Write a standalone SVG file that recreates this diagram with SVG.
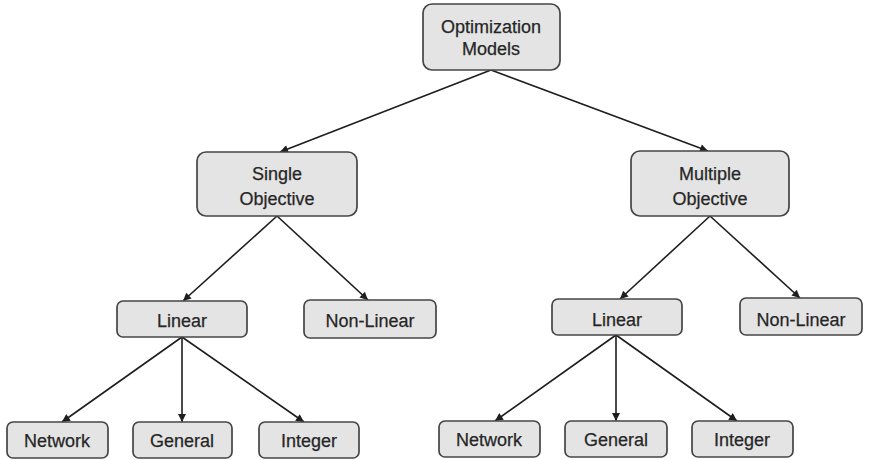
<svg xmlns="http://www.w3.org/2000/svg" width="871" height="460" viewBox="0 0 871 460">
  <style>
    .box { fill: #e4e4e4; stroke: #454545; stroke-width: 1.7; }
    .lbl { font-family: "Liberation Sans", Arial, sans-serif; font-size: 18px; fill: #262626; stroke: #262626; stroke-width: 0.25; text-anchor: middle; }
    .edge { stroke: #1e1e1e; stroke-width: 1.6; fill: none; marker-end: url(#arrow); }
  </style>
  <defs>
    <marker id="arrow" viewBox="0 0 10 10" refX="10" refY="5" markerWidth="9" markerHeight="8" markerUnits="userSpaceOnUse" orient="auto">
      <path d="M0,0 L10,5 L0,10 Z" fill="#1e1e1e"/>
    </marker>
  </defs>
  <rect width="871" height="460" fill="#ffffff"/>

  <g id="connectors">
    <line class="edge" x1="491" y1="70" x2="280" y2="152"/>
    <line class="edge" x1="491" y1="70" x2="708" y2="151"/>
    <line class="edge" x1="277" y1="216" x2="183" y2="301"/>
    <line class="edge" x1="277" y1="216" x2="368" y2="300"/>
    <line class="edge" x1="710" y1="216" x2="620" y2="299"/>
    <line class="edge" x1="710" y1="216" x2="800" y2="298"/>
    <line class="edge" x1="182" y1="337" x2="62" y2="422"/>
    <line class="edge" x1="182" y1="337" x2="182" y2="422"/>
    <line class="edge" x1="182" y1="337" x2="304" y2="422"/>
    <line class="edge" x1="616" y1="335" x2="495" y2="421"/>
    <line class="edge" x1="616" y1="335" x2="616" y2="421"/>
    <line class="edge" x1="616" y1="335" x2="737" y2="421"/>
  </g>

  <g id="optimization-models">
    <rect class="box" x="423" y="4" width="137" height="66" rx="9"/>
    <text class="lbl" x="491" y="33">Optimization</text>
    <text class="lbl" x="491" y="55">Models</text>
  </g>

  <g id="single-objective">
    <rect class="box" x="197" y="152" width="160" height="64" rx="9"/>
    <text class="lbl" x="277" y="180">Single</text>
    <text class="lbl" x="277" y="205">Objective</text>
  </g>

  <g id="multiple-objective">
    <rect class="box" x="631" y="151" width="158" height="65" rx="9"/>
    <text class="lbl" x="710" y="180">Multiple</text>
    <text class="lbl" x="710" y="205">Objective</text>
  </g>

  <g id="so-linear">
    <rect class="box" x="117" y="301" width="130" height="36" rx="6"/>
    <text class="lbl" x="182" y="327">Linear</text>
  </g>

  <g id="so-nonlinear">
    <rect class="box" x="304" y="300" width="132" height="38" rx="6"/>
    <text class="lbl" x="370" y="327">Non-Linear</text>
  </g>

  <g id="mo-linear">
    <rect class="box" x="552" y="299" width="130" height="36" rx="6"/>
    <text class="lbl" x="617" y="326">Linear</text>
  </g>

  <g id="mo-nonlinear">
    <rect class="box" x="740" y="298" width="122" height="37" rx="6"/>
    <text class="lbl" x="801" y="326">Non-Linear</text>
  </g>

  <g id="so-network">
    <rect class="box" x="7" y="422" width="101" height="36" rx="6"/>
    <text class="lbl" x="57" y="447">Network</text>
  </g>
  <g id="so-general">
    <rect class="box" x="133" y="422" width="99" height="36" rx="6"/>
    <text class="lbl" x="182" y="447">General</text>
  </g>
  <g id="so-integer">
    <rect class="box" x="259" y="422" width="100" height="36" rx="6"/>
    <text class="lbl" x="309" y="447">Integer</text>
  </g>

  <g id="mo-network">
    <rect class="box" x="439" y="421" width="101" height="36" rx="6"/>
    <text class="lbl" x="489" y="446">Network</text>
  </g>
  <g id="mo-general">
    <rect class="box" x="565" y="421" width="102" height="36" rx="6"/>
    <text class="lbl" x="616" y="446">General</text>
  </g>
  <g id="mo-integer">
    <rect class="box" x="692" y="421" width="101" height="36" rx="6"/>
    <text class="lbl" x="742" y="446">Integer</text>
  </g>
</svg>
